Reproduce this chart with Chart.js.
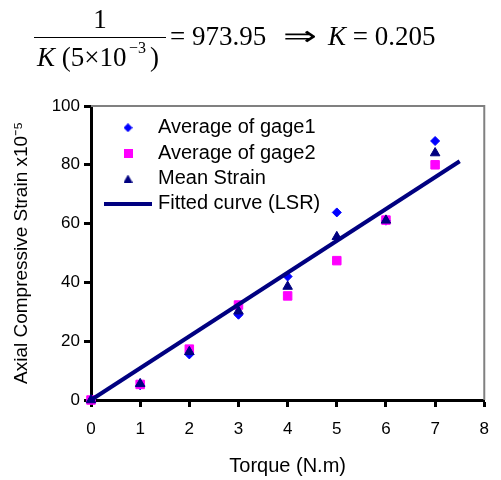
<!DOCTYPE html>
<html>
<head>
<meta charset="UTF-8">
<title>Axial Compressive Strain vs Torque</title>
<script src="https://cdn.jsdelivr.net/npm/chart.js"></script>
<style>
    body {
        margin: 0;
        padding: 0;
        background: #fff;
    }
    .wrap {
        position: relative;
        width: 501px;
        height: 480px;
        overflow: hidden;
    }
    #strainChart {
        position: absolute;
        left: 0;
        top: 0;
    }
    .eq {
        position: absolute;
        font-family: "Liberation Serif", "Times New Roman", serif;
        font-size: 27px;
        line-height: 27px;
        white-space: nowrap;
        color: #000;
    }
    .eq.small {
        font-size: 16px;
        line-height: 16px;
    }
    .bar {
        position: absolute;
        left: 34px;
        top: 37px;
        width: 132px;
        border-top: 1.5px solid #000;
    }
    .arrow {
        display: inline-block;
        transform: scaleX(1.5);
        transform-origin: left center;
    }
</style>
</head>
<body>
<div class="wrap">
    <canvas id="strainChart" width="501" height="480"></canvas>

    <!-- formula above the chart -->
    <div class="eq" style="left:34px; top:6px; width:132px; text-align:center;">1</div>
    <div class="bar"></div>
    <div class="eq" style="left:37px; top:44px;"><i>K</i> (5×10</div>
    <div class="eq small" style="left:129px; top:40px;">−3</div>
    <div class="eq" style="left:150px; top:44px;">)</div>
    <div class="eq" style="left:170px; top:23px;">= 973.95</div>
    <div class="eq" style="left:283px; top:23px;"><span class="arrow">⇒</span></div>
    <div class="eq" style="left:328px; top:23px;"><i>K</i> = 0.205</div>
</div>

<script>
    // data
    const torque = [0, 1, 2, 3, 4, 5, 6, 7];
    const gage1 = [0, 5, 15.5, 29, 42, 63.8, 61, 88.1];
    const gage2 = [0, 5.3, 17.3, 32.3, 35.4, 47.4, 61.2, 80];
    const meanStrain = [0, 5.5, 16.4, 30.2, 38.6, 55.5, 61.1, 84];
    const fitTorque = [0, 7.5];
    const fitStrain = [0, 81.2];

    const xTicks = [0, 1, 2, 3, 4, 5, 6, 7, 8];
    const yTicks = [0, 20, 40, 60, 80, 100];
    const seriesNames = ["Average of gage1", "Average of gage2", "Mean Strain", "Fitted curve (LSR)"];

    const sansFont = "'Liberation Sans', Arial, sans-serif";

    function toPoints(xs, ys) {
        return xs.map((x, i) => ({ x: x, y: ys[i] }));
    }

    // little pictures for the legend keys
    function keyCanvas(w, h, paint) {
        const c = document.createElement("canvas");
        c.width = w;
        c.height = h;
        paint(c.getContext("2d"), w, h);
        return c;
    }
    const legendKeys = [
        keyCanvas(9, 9, (g, w, h) => {
            g.fillStyle = "#0000ff";
            g.beginPath();
            g.moveTo(w / 2, 0); g.lineTo(w, h / 2); g.lineTo(w / 2, h); g.lineTo(0, h / 2);
            g.closePath();
            g.fill();
        }),
        keyCanvas(9, 9, (g, w, h) => {
            g.fillStyle = "#ff00ff";
            g.fillRect(0, 0, w, h);
        }),
        keyCanvas(9, 8, (g, w, h) => {
            g.fillStyle = "#000080";
            g.beginPath();
            g.moveTo(w / 2, 0); g.lineTo(w, h); g.lineTo(0, h);
            g.closePath();
            g.fill();
        }),
        keyCanvas(48, 4, (g, w, h) => {
            g.fillStyle = "#000080";
            g.fillRect(0, 0, w, h);
        })
    ];

    // gray top/right edge of the plot area
    const plotFrame = {
        id: "plotFrame",
        beforeDatasetsDraw(chart) {
            const a = chart.chartArea;
            const ctx = chart.ctx;
            ctx.save();
            ctx.strokeStyle = "#808080";
            ctx.lineWidth = 2;
            ctx.beginPath();
            ctx.moveTo(a.left, a.top);
            ctx.lineTo(a.right, a.top);
            ctx.lineTo(a.right, a.bottom);
            ctx.stroke();
            ctx.restore();
        }
    };

    // put the legend inside the plot, near its top left corner
    const legendNudge = {
        id: "legendNudge",
        afterLayout(chart) {
            const a = chart.chartArea;
            chart.legend.left = a.left + 11.6;
            chart.legend.top = a.top + 6.3;
            chart.legend.bottom = a.bottom;
        }
    };

    const ctx = document.getElementById("strainChart").getContext("2d");
    const chart = new Chart(ctx, {
        type: "scatter",
        data: {
            datasets: [
                {
                    label: seriesNames[0],
                    data: toPoints(torque, gage1),
                    pointStyle: "rectRot",
                    pointRadius: 4.5,
                    backgroundColor: "#0000ff",
                    borderColor: "#0000ff",
                    borderWidth: 1,
                    clip: false,
                    order: 3
                },
                {
                    label: seriesNames[1],
                    data: toPoints(torque, gage2),
                    pointStyle: "rect",
                    pointRadius: 6,
                    backgroundColor: "#ff00ff",
                    borderColor: "#ff00ff",
                    borderWidth: 1,
                    clip: false,
                    order: 2
                },
                {
                    label: seriesNames[2],
                    data: toPoints(torque, meanStrain),
                    pointStyle: "triangle",
                    pointRadius: 5.5,
                    backgroundColor: "#000080",
                    borderColor: "#000080",
                    borderWidth: 1,
                    clip: false,
                    order: 1
                },
                {
                    type: "line",
                    label: seriesNames[3],
                    data: toPoints(fitTorque, fitStrain),
                    borderColor: "#000080",
                    backgroundColor: "#000080",
                    borderWidth: 4,
                    pointRadius: 0,
                    fill: false,
                    clip: false,
                    order: 0
                }
            ]
        },
        options: {
            responsive: false,
            animation: false,
            events: [],
            layout: {
                padding: { top: 106, right: 6, left: 0, bottom: 0 }
            },
            scales: {
                x: {
                    type: "linear",
                    min: xTicks[0],
                    max: xTicks[xTicks.length - 1],
                    ticks: {
                        stepSize: xTicks[1] - xTicks[0],
                        color: "#000",
                        padding: 12,
                        font: { family: sansFont, size: 17 }
                    },
                    grid: {
                        display: true,
                        drawOnChartArea: false,
                        drawTicks: true,
                        tickLength: 7,
                        tickWidth: 3,
                        tickColor: "#000"
                    },
                    border: { display: true, color: "#000", width: 3 },
                    title: {
                        display: true,
                        text: "Torque (N.m)",
                        color: "#000",
                        font: { family: sansFont, size: 20 },
                        padding: { top: 2, bottom: 2 }
                    },
                    afterFit: s => { s.height = 80; }
                },
                y: {
                    type: "linear",
                    min: yTicks[0],
                    max: yTicks[yTicks.length - 1],
                    ticks: {
                        stepSize: yTicks[1] - yTicks[0],
                        color: "#000",
                        padding: 4,
                        font: { family: sansFont, size: 17 }
                    },
                    grid: {
                        display: true,
                        drawOnChartArea: false,
                        drawTicks: true,
                        tickLength: 7,
                        tickWidth: 3,
                        tickColor: "#000"
                    },
                    border: { display: true, color: "#000", width: 3 },
                    title: {
                        display: true,
                        text: "Axial Compressive Strain x10⁻⁵",
                        color: "#000",
                        font: { family: sansFont, size: 19 },
                        padding: { top: 10.6, bottom: 0 }
                    },
                    afterFit: s => { s.width = 91; }
                }
            },
            plugins: {
                tooltip: { enabled: false },
                legend: {
                    position: "chartArea",
                    align: "start",
                    labels: {
                        usePointStyle: true,
                        pointStyleWidth: 40,
                        padding: 5.4,
                        color: "#000",
                        font: { family: sansFont, size: 20 },
                        generateLabels: c => c.data.datasets.map((ds, i) => ({
                            text: ds.label,
                            pointStyle: legendKeys[i],
                            fillStyle: ds.backgroundColor,
                            strokeStyle: ds.borderColor,
                            lineWidth: 0,
                            hidden: false,
                            datasetIndex: i
                        }))
                    }
                }
            }
        },
        plugins: [plotFrame, legendNudge]
    });
</script>
</body>
</html>
